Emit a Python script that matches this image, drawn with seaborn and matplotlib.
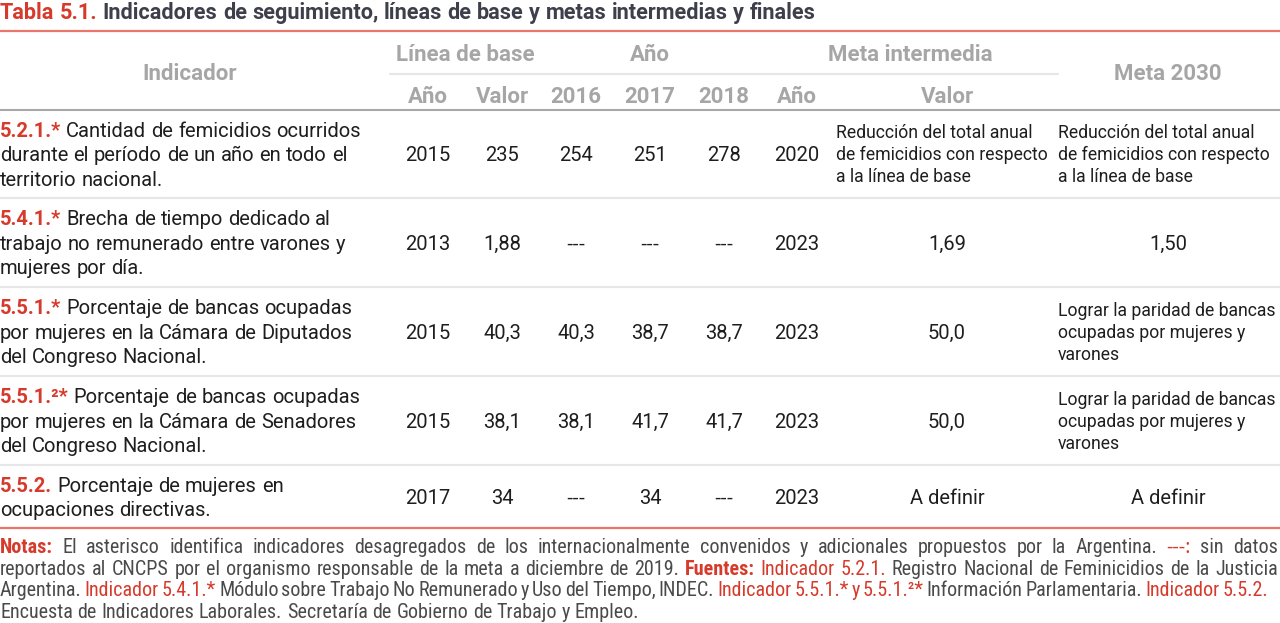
import matplotlib
matplotlib.use('Agg')
import matplotlib.pyplot as plt
import seaborn as sns
from matplotlib import font_manager as fm

# ---- datos de la tabla ----
codes = ['5.2.1.*', '5.4.1.*', '5.5.1.*', '5.5.1.²*', '5.5.2.']
indicators = [
    ['Cantidad de femicidios ocurridos', 'durante el período de un año en todo el', 'territorio nacional.'],
    ['Brecha de tiempo dedicado al', 'trabajo no remunerado entre varones y', 'mujeres por día.'],
    ['Porcentaje de bancas ocupadas', 'por mujeres en la Cámara de Diputados', 'del Congreso Nacional.'],
    ['Porcentaje de bancas ocupadas', 'por mujeres en la Cámara de Senadores', 'del Congreso Nacional.'],
    ['Porcentaje de mujeres en', 'ocupaciones directivas.'],
]
base_year = ['2015', '2013', '2015', '2015', '2017']
base_value = ['235', '1,88', '40,3', '38,1', '34']
val_2016 = ['254', '---', '40,3', '38,1', '---']
val_2017 = ['251', '---', '38,7', '41,7', '34']
val_2018 = ['278', '---', '38,7', '41,7', '---']
meta_year = ['2020', '2023', '2023', '2023', '2023']
meta_value = [
    ['Reducción del total anual', 'de femicidios con respecto', 'a la línea de base'],
    ['1,69'], ['50,0'], ['50,0'], ['A definir'],
]
meta_2030 = [
    ['Reducción del total anual', 'de femicidios con respecto', 'a la línea de base'],
    ['1,50'],
    ['Lograr la paridad de bancas', 'ocupadas por mujeres y', 'varones'],
    ['Lograr la paridad de bancas', 'ocupadas por mujeres y', 'varones'],
    ['A definir'],
]
sub_headers = ['Año', 'Valor', '2016', '2017', '2018', 'Año', 'Valor']

title_code = 'Tabla 5.1.'
title_text = 'Indicadores de seguimiento, líneas de base y metas intermedias y finales'

RED = '#d63a2b'
RED_LIGHT = '#e8766b'
GRAY_H = '#a6a6a6'
TXT = '#1e1e1e'
NOTE = '#4a4a4a'
TITLE = '#3d404b'

notes = [
    ([('Notas:', RED, 'bold'),
      ('El asterisco identifica indicadores desagregados de los internacionalmente convenidos y '
       'adicionales propuestos por la Argentina.', NOTE, 'normal'),
      ('---:', RED, 'normal'), ('sin datos', NOTE, 'normal')], 1278),
    ([('reportados al CNCPS por el organismo responsable de la meta a diciembre de 2019.', NOTE, 'normal'),
      ('Fuentes:', RED, 'bold'), ('Indicador 5.2.1.', RED, 'normal'),
      ('Registro Nacional de Feminicidios de la Justicia', NOTE, 'normal')], 1278),
    ([('Argentina.', NOTE, 'normal'), ('Indicador 5.4.1.*', RED, 'normal'),
      ('Módulo sobre Trabajo No Remunerado y Uso del Tiempo, INDEC.', NOTE, 'normal'),
      ('Indicador 5.5.1.* y 5.5.1.²*', RED, 'normal'),
      ('Información Parlamentaria.', NOTE, 'normal'), ('Indicador 5.5.2.', RED, 'normal')], 1268),
    ([('Encuesta de Indicadores Laborales. Secretaría de Gobierno de Trabajo y Empleo.', NOTE, 'normal')], None),
]

sns.set_theme(style='white')


def pick(*names):
    avail = {f.name for f in fm.fontManager.ttflist}
    for n in names:
        if n in avail:
            return n
    return 'DejaVu Sans'


BODY = pick('Roboto', 'Open Sans', 'Lato')
NARROW = pick('Liberation Sans Narrow', 'Roboto Condensed', 'Roboto')
DASH = pick('Open Sans', 'DejaVu Sans')
plt.rcParams['font.family'] = [BODY, 'DejaVu Sans']

fig = plt.figure(figsize=(12.8, 6.23), dpi=100)
ax = fig.add_axes([0, 0, 1, 1])
ax.set_xlim(0, 1280)
ax.set_ylim(623, 0)
ax.axis('off')
renderer = fig.canvas.get_renderer()


def base(yc, size):
    # baseline for a visually centred line of text
    return yc + 0.36 * size * 100 / 72


def runs_line(x, yc, runs, size, family, width=None):
    words = []
    for txt, color, weight in runs:
        for w in txt.split():
            words.append((w, color, weight))
    arts = []
    for w, c, wt in words:
        fam = [DASH] if w.startswith('---') else [family, 'DejaVu Sans']
        arts.append(ax.text(0, base(yc, size), w, color=c, fontweight=wt, fontsize=size,
                            family=fam, va='baseline', ha='left'))
    widths = [a.get_window_extent(renderer).width for a in arts]
    t1 = ax.text(0, 0, 'a a', fontsize=size, family=[family])
    t2 = ax.text(0, 0, 'aa', fontsize=size, family=[family])
    sp = t1.get_window_extent(renderer).width - t2.get_window_extent(renderer).width
    t1.remove()
    t2.remove()
    gap = sp if (width is None or len(words) < 2) else (width - x - sum(widths)) / (len(words) - 1)
    cx = x
    for a, w in zip(arts, widths):
        a.set_x(cx)
        cx += w + gap


def cell(x, yc, s, size):
    fam = [DASH] if s == '---' else [BODY, 'DejaVu Sans']
    ax.text(x, base(yc, size), s, ha='center', va='baseline', fontsize=size, color=TXT, family=fam)


# titulo
runs_line(0, 11, [(title_code, RED, 'bold'), (title_text, TITLE, 'bold')], 15.6, BODY)
ax.axhline(31, color=RED_LIGHT, lw=1.6)

# encabezados
HS = 16
hkw = dict(ha='center', va='baseline', fontsize=HS, fontweight='bold', color=GRAY_H)
ax.text(190, base(72, HS), 'Indicador', **hkw)
ax.text(1168, base(72, HS), 'Meta 2030', **hkw)
ax.text(465, base(53, HS), 'Línea de base', **hkw)
ax.text(650, base(53, HS), 'Año', **hkw)
ax.text(910, base(53, HS), 'Meta intermedia', **hkw)
ax.plot([390, 1058], [74, 74], color='#e6e6e6', lw=1.5)
col_x = [428, 502, 576, 650, 724, 797, 947]
for cx, lab in zip(col_x, sub_headers):
    ax.text(cx, base(95, HS), lab, **hkw)
ax.axhline(110, color='#a8a8a8', lw=1.5)

# filas
edges = [110, 198, 287, 376, 465, 528]
BS = 14.5
MS = 12.7
for i in range(len(codes)):
    yc = (edges[i] + edges[i + 1]) / 2
    lines = indicators[i]
    n = len(lines)
    for k, line in enumerate(lines):
        y = yc + (k - (n - 1) / 2) * 24.5
        runs = [(codes[i], RED, 'bold'), (line, TXT, 'normal')] if k == 0 else [(line, TXT, 'normal')]
        runs_line(0, y, runs, BS, BODY)
    vals = [base_year[i], base_value[i], val_2016[i], val_2017[i], val_2018[i], meta_year[i]]
    for cx, v in zip(col_x[:6], vals):
        cell(cx, yc, v, BS)
    for cells, cxc, xl in [(meta_value[i], 947, 836), (meta_2030[i], 1168, 1058)]:
        if len(cells) == 1:
            cell(cxc, yc, cells[0], BS)
        else:
            m = len(cells)
            for k, line in enumerate(cells):
                y = yc + (k - (m - 1) / 2) * 22
                ax.text(xl, base(y, MS), line, ha='left', va='baseline', fontsize=MS, color=TXT)
    if i < len(codes) - 1:
        ax.axhline(edges[i + 1], color='#e6e6e6', lw=1.5)
ax.axhline(edges[-1], color=RED_LIGHT, lw=1.6)

# notas
for k, (runs, w) in enumerate(notes):
    runs_line(0, 546 + k * 21.5, runs, 14.5, NARROW, width=w)

fig.savefig('out.png', dpi=100)
